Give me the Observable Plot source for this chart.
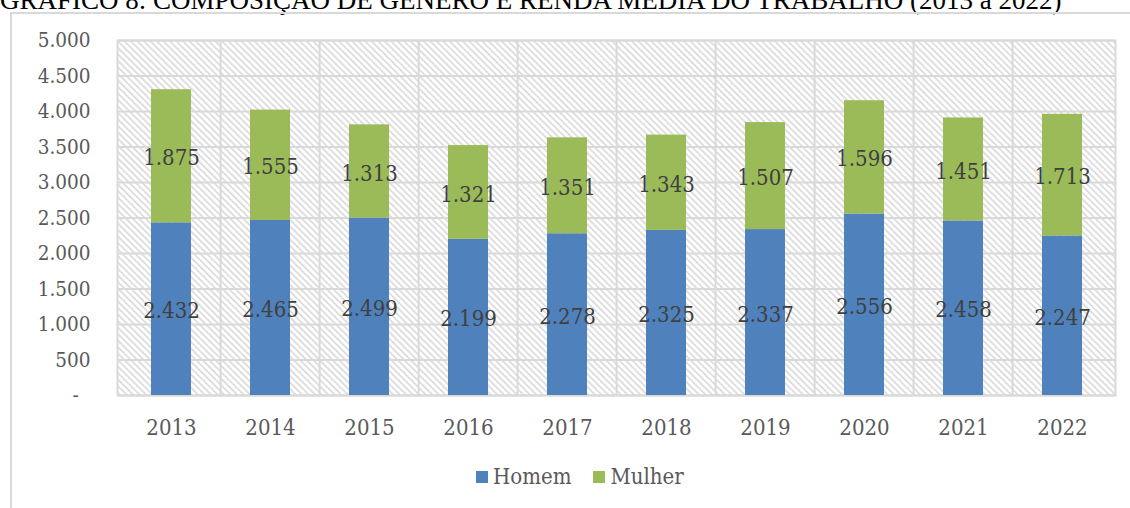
<!DOCTYPE html>
<html>
<head>
<meta charset="utf-8">
<script src="https://cdn.jsdelivr.net/npm/d3@7"></script>
<script src="https://cdn.jsdelivr.net/npm/@observablehq/plot@0.6"></script>
<style>
  html, body { margin: 0; padding: 0; background: #fff; overflow: hidden; }
  body { width: 1130px; height: 508px; position: relative; }
  #title { position: absolute; left: 0; top: -13px; font-family: "Liberation Serif", serif; font-size: 27px; line-height: 1; white-space: nowrap; color: #000; }
  #box { position: absolute; left: 10px; top: 12px; width: 1200px; height: 600px; border-left: 2px solid #d9d9d9; border-top: 2px solid #d9d9d9; }
  #chart { position: absolute; left: 0; top: 0; }
  #legend { position: absolute; left: 476px; top: 464px; display: flex; align-items: center; font-family: "DejaVu Serif Condensed", "DejaVu Serif", serif; font-stretch: condensed; font-size: 22px; color: #595959; }
  #legend .item { display: flex; align-items: center; margin-right: 22px; }
  #legend .sw { width: 12px; height: 12px; margin-right: 5px; }
  svg text { font-family: "DejaVu Serif Condensed", "DejaVu Serif", serif; font-stretch: condensed; }
</style>
</head>
<body>
<div id="title">GRÁFICO 8: COMPOSIÇÃO DE GÊNERO E RENDA MÉDIA DO TRABALHO (2013 a 2022)</div>
<div id="box"></div>
<div id="chart"></div>
<div id="legend"></div>
<script>
const years = ["2013","2014","2015","2016","2017","2018","2019","2020","2021","2022"];
const homem = [2432, 2465, 2499, 2199, 2278, 2325, 2337, 2556, 2458, 2247];
const mulher = [1875, 1555, 1313, 1321, 1351, 1343, 1507, 1596, 1451, 1713];
const series = ["Homem", "Mulher"];
const colors = ["#4F81BD", "#9BBB59"];
const yTicks = [0, 500, 1000, 1500, 2000, 2500, 3000, 3500, 4000, 4500, 5000];

const data = years.flatMap((y, i) => [
  {year: y, serie: "Homem", value: homem[i]},
  {year: y, serie: "Mulher", value: mulher[i]}
]);

const locale = d3.formatLocale({decimal: ",", thousands: ".", grouping: [3], currency: ["R$", ""]});
const fmt = locale.format(",d");
const yFmt = v => v === 0 ? "-\u00a0\u00a0" : fmt(v);

const W = 1130, H = 450;
const mL = 117, mR = 15, mT = 40, mB = 55;
const step = (W - mL - mR) / years.length;

const plot = Plot.plot({
  width: W,
  height: H,
  marginLeft: mL,
  marginRight: mR,
  marginTop: mT,
  marginBottom: mB,
  style: {background: "transparent", overflow: "visible"},
  x: {domain: years, padding: 0.6, paddingOuter: 0.3, label: null},
  y: {domain: [0, 5000], label: null},
  color: {domain: series, range: colors},
  marks: [
    Plot.frame({fill: "url(#hatch)", stroke: null}),
    Plot.gridY(yTicks, {stroke: "#d9d9d9", strokeWidth: 2, strokeOpacity: 1}),
    Plot.ruleX(years.slice(1), {x: d => d, dx: -step / 2, stroke: "#d9d9d9", strokeWidth: 2}),
    Plot.frame({stroke: "#d9d9d9", strokeWidth: 2}),
    Plot.barY(data, {x: "year", y: "value", fill: "serie", z: "serie", order: series}),
    Plot.text(data, Plot.stackY({x: "year", y: "value", z: "serie", order: series, text: d => fmt(d.value), fill: "#404040", fontSize: 22, dy: 2})),
    Plot.axisY(yTicks, {tickSize: 0, tickPadding: 27, tickFormat: yFmt, fontSize: 20.5, fill: "#595959"}),
    Plot.axisX({tickSize: 0, tickPadding: 24, fontSize: 22, fill: "#595959"})
  ]
});

// hatch pattern definition
const svgSel = d3.select(plot);
const defs = svgSel.insert("defs", ":first-child");
const pat = defs.append("pattern")
  .attr("id", "hatch")
  .attr("patternUnits", "userSpaceOnUse")
  .attr("width", 10)
  .attr("height", 4.6)
  .attr("patternTransform", "rotate(45)");
pat.append("rect").attr("width", 10).attr("height", 4.6).attr("fill", "#ffffff");
pat.append("line").attr("x1", 0).attr("x2", 10).attr("y1", 1).attr("y2", 1)
  .attr("stroke", "#d6d6d6").attr("stroke-width", 1.5);

document.getElementById("chart").appendChild(plot);

const legend = d3.select("#legend");
series.forEach((s, i) => {
  const it = legend.append("div").attr("class", "item");
  it.append("div").attr("class", "sw").style("background", colors[i]);
  it.append("span").text(s);
});
</script>
</body>
</html>
